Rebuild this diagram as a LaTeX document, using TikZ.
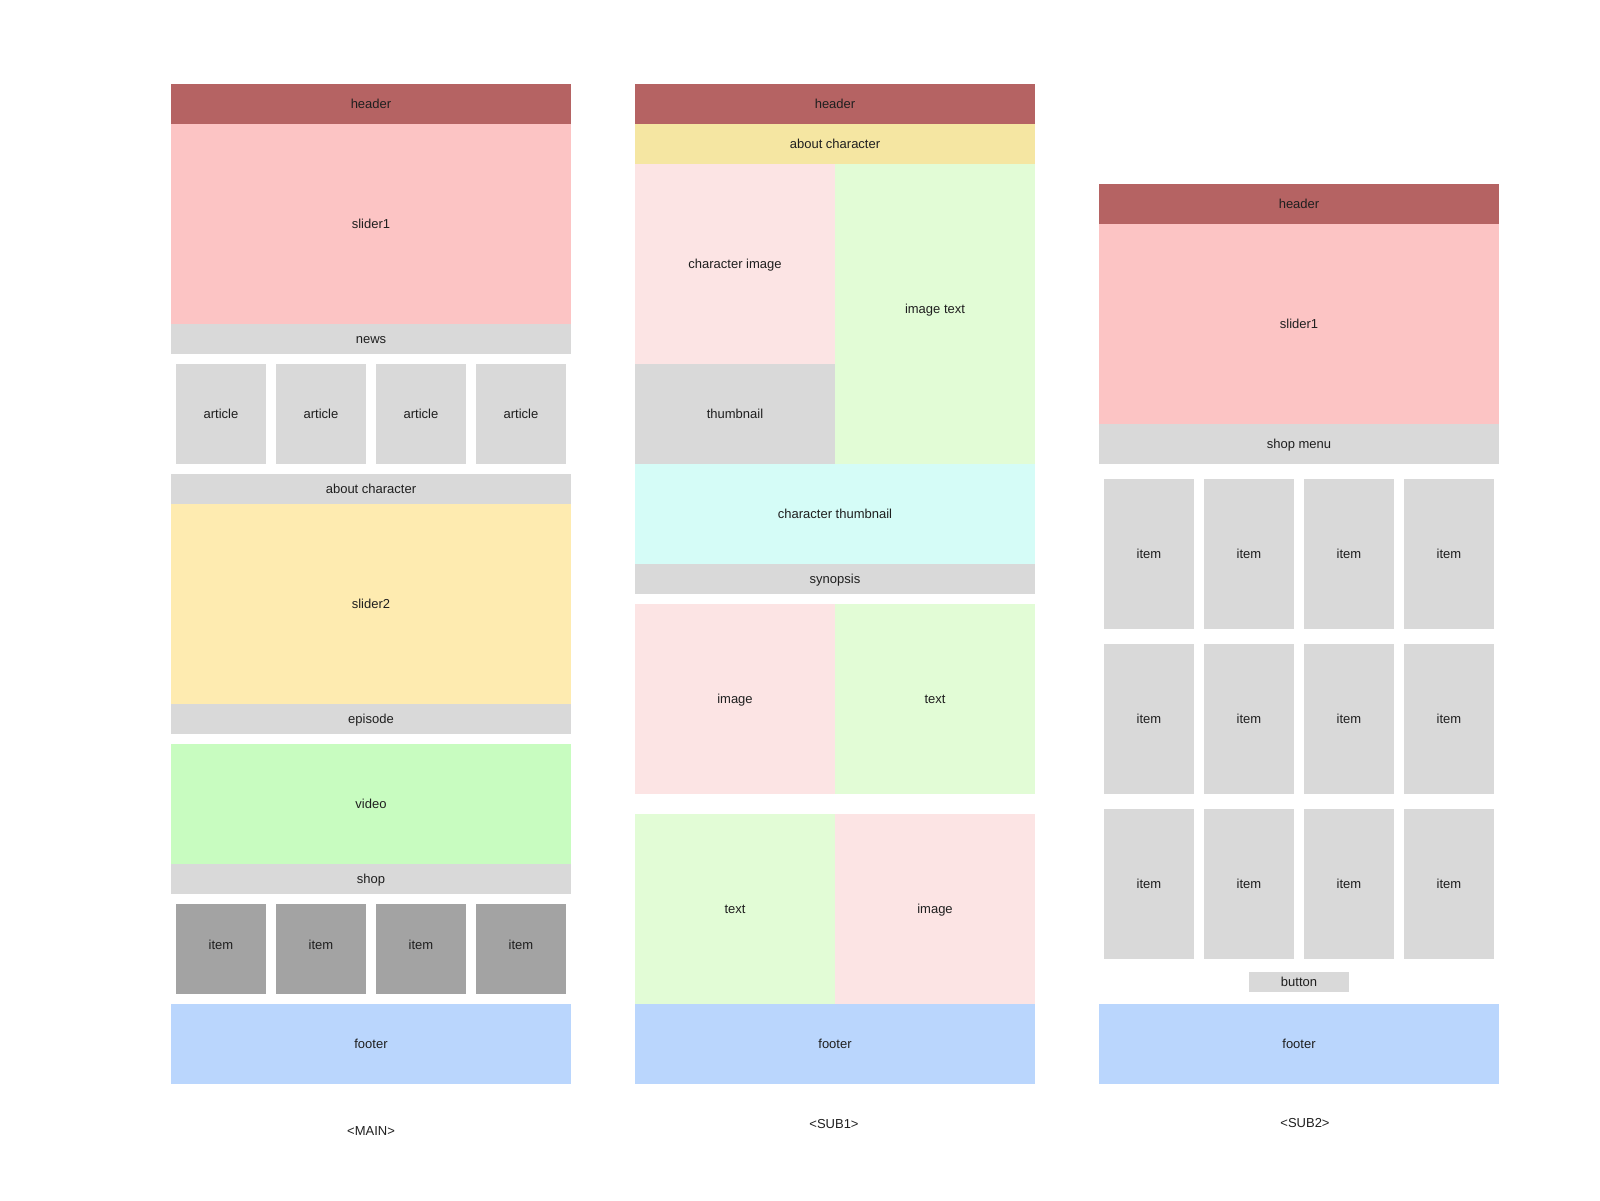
\documentclass[tikz,border=0pt]{standalone}
\usepackage{fontspec}
\setmainfont{Liberation Sans}
\begin{document}
\definecolor{hdr}{HTML}{B56363}
\definecolor{slidepink}{HTML}{FCC4C4}
\definecolor{lgray}{HTML}{D9D9D9}
\definecolor{dgray}{HTML}{A3A3A3}
\definecolor{slideyel}{HTML}{FEEBB0}
\definecolor{aboutyel}{HTML}{F5E6A2}
\definecolor{imgpink}{HTML}{FCE4E4}
\definecolor{txtgreen}{HTML}{E2FCD6}
\definecolor{cyanish}{HTML}{D5FCF7}
\definecolor{vidgreen}{HTML}{C8FCC0}
\definecolor{foot}{HTML}{BAD6FD}
\begin{tikzpicture}[x=1pt,y=-1pt,
  blk/.style={rectangle,inner sep=0pt,outer sep=0pt,draw=none,
    font=\fontsize{13}{15}\selectfont,text=black!88,
    text height=11pt,text depth=1.6pt},
  wh/.style 2 args={minimum width=#1pt,minimum height=#2pt},
  highlbl/.style={text height=6.3pt,text depth=6.3pt},
  caption/.style={inner sep=0pt,font=\fontsize{13}{15}\selectfont,text=black!88}]
\useasboundingbox[fill=white] (0,0) rectangle (1600,1200);

% ---------- MAIN ----------
\node[blk,wh={400}{40},fill=hdr] (m-header) at (371,104) {header};
\node[blk,wh={400}{200},fill=slidepink] (m-slider1) at (371,224) {slider1};
\node[blk,wh={400}{30},fill=lgray] (m-news) at (371,339) {news};
\foreach \i/\x in {1/221,2/321,3/421,4/521}
  \node[blk,wh={90}{100},fill=lgray] (m-article\i) at (\x,414) {article};
\node[blk,wh={400}{30},fill=lgray] (m-about) at (371,489) {about character};
\node[blk,wh={400}{200},fill=slideyel] (m-slider2) at (371,604) {slider2};
\node[blk,wh={400}{30},fill=lgray] (m-episode) at (371,719) {episode};
\node[blk,wh={400}{120},fill=vidgreen] (m-video) at (371,804) {video};
\node[blk,wh={400}{30},fill=lgray] (m-shop) at (371,879) {shop};
\foreach \i/\x in {1/221,2/321,3/421,4/521}
  \node[blk,highlbl,wh={90}{90},fill=dgray] (m-item\i) at (\x,949) {item};
\node[blk,wh={400}{80},fill=foot] (m-footer) at (371,1044) {footer};
\node[caption] (m-cap) at (371,1131) {<MAIN>};

% ---------- SUB1 ----------
\node[blk,wh={400}{40},fill=hdr] (s1-header) at (835,104) {header};
\node[blk,wh={400}{40},fill=aboutyel] (s1-about) at (835,144) {about character};
\node[blk,wh={200}{200},fill=imgpink] (s1-charimg) at (735,264) {character image};
\node[blk,wh={200}{100},fill=lgray] (s1-thumb) at (735,414) {thumbnail};
\node[blk,wh={200}{300},fill=txtgreen,text height=6pt,text depth=7pt] (s1-imgtext) at (935,314) {image text};
\node[blk,wh={400}{100},fill=cyanish] (s1-charthumb) at (835,514) {character thumbnail};
\node[blk,wh={400}{30},fill=lgray] (s1-synopsis) at (835,579) {synopsis};
\node[blk,wh={200}{190},fill=imgpink] (s1-image1) at (735,699) {image};
\node[blk,wh={200}{190},fill=txtgreen] (s1-text1) at (935,699) {text};
\node[blk,wh={200}{190},fill=txtgreen] (s1-text2) at (735,909) {text};
\node[blk,wh={200}{190},fill=imgpink] (s1-image2) at (935,909) {image};
\node[blk,wh={400}{80},fill=foot] (s1-footer) at (835,1044) {footer};
\node[caption] (s1-cap) at (834,1124) {<SUB1>};

% ---------- SUB2 ----------
\node[blk,wh={400}{40},fill=hdr] (s2-header) at (1299,204) {header};
\node[blk,wh={400}{200},fill=slidepink] (s2-slider1) at (1299,324) {slider1};
\node[blk,wh={400}{40},fill=lgray] (s2-shopmenu) at (1299,444) {shop menu};
\foreach \r/\y in {1/554,2/719,3/884}
  \foreach \c/\x in {1/1149,2/1249,3/1349,4/1449}
    \node[blk,wh={90}{150},fill=lgray] (s2-item\r\c) at (\x,\y) {item};
\node[blk,wh={100}{20},fill=lgray] (s2-button) at (1299,982) {button};
\node[blk,wh={400}{80},fill=foot] (s2-footer) at (1299,1044) {footer};
\node[caption] (s2-cap) at (1305,1123) {<SUB2>};
\end{tikzpicture}
\end{document}
